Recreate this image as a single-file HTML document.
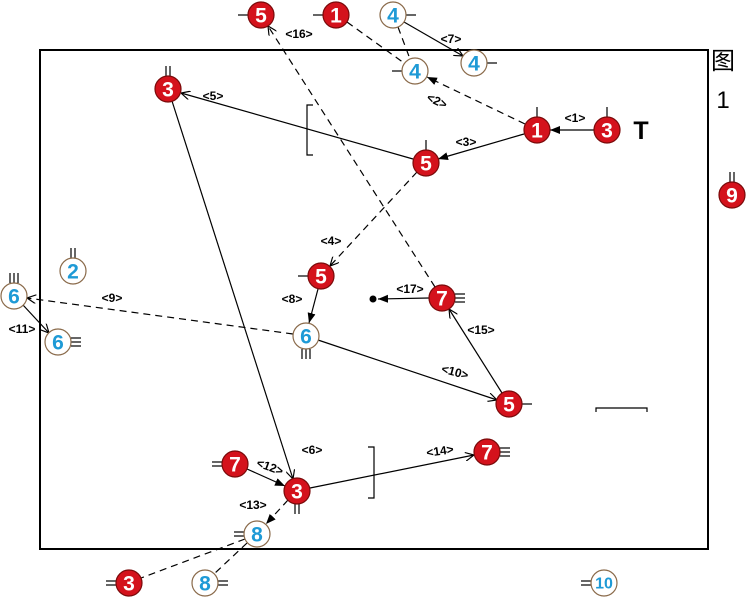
<!DOCTYPE html>
<html><head><meta charset="utf-8"><style>
html,body{margin:0;padding:0;background:#fff;}
svg{display:block;}
.r{fill:#d4121c;stroke:#7a0a0a;stroke-width:1.2}
.b{fill:#fff;stroke:#8a6a4a;stroke-width:1.2}
.tr{fill:#fff;font:bold 21px "Liberation Sans",sans-serif;text-anchor:middle;dominant-baseline:central}
.tb{fill:#1e9ad6;font:bold 21px "Liberation Sans",sans-serif;text-anchor:middle;dominant-baseline:central}
.l{font:600 12px "Liberation Sans",sans-serif;text-anchor:middle;fill:#000}
.e{stroke:#000;stroke-width:1.2;fill:none}
.d{stroke-dasharray:7,5}
.t{stroke:#000;stroke-width:1.2}
</style></head><body>
<svg width="747" height="600" viewBox="0 0 747 600" xmlns="http://www.w3.org/2000/svg">
<defs>
<marker id="f" viewBox="0 0 10 10" refX="10" refY="5" markerWidth="10" markerHeight="10" markerUnits="userSpaceOnUse" orient="auto"><path d="M0,1 L10,5 L0,9 z" fill="#000"/></marker>
<marker id="o" viewBox="0 0 10 10" refX="10" refY="5" markerWidth="9" markerHeight="9" markerUnits="userSpaceOnUse" orient="auto"><path d="M0,0 L10,5 L0,10" fill="none" stroke="#000" stroke-width="1.3"/></marker>
</defs>
<rect x="40" y="50" width="668" height="499" fill="none" stroke="#000" stroke-width="2"/>
<text x="723" y="69" font-family="Liberation Sans,Noto Sans CJK SC,sans-serif" font-size="24" text-anchor="middle">图</text>
<text x="723" y="108" font-family="Liberation Sans,sans-serif" font-size="24" text-anchor="middle">1</text>
<text x="641" y="139" font-family="Liberation Sans,sans-serif" font-size="25" font-weight="bold" text-anchor="middle">T</text>

<path class="e" d="M313,105 H307 V155 H313"/>
<path class="e" d="M368,447 H374 V498 H368"/>
<path class="e" d="M596,412 V408 H647 V412"/>

<line class="e" x1="594" y1="130" x2="550" y2="130" marker-end="url(#f)"/>
<line class="e d" x1="525" y1="124" x2="427" y2="77" marker-end="url(#f)"/>
<line class="e" x1="524" y1="134" x2="438" y2="159" marker-end="url(#f)"/>
<line class="e d" x1="417" y1="172" x2="330" y2="266" marker-end="url(#o)"/>
<line class="e" x1="413" y1="159" x2="181" y2="93" marker-end="url(#o)"/>
<line class="e" x1="172" y1="101" x2="293" y2="479" marker-end="url(#o)"/>
<line class="e" x1="404" y1="22" x2="463" y2="56" marker-end="url(#o)"/>
<line class="e" x1="318" y1="289" x2="309" y2="323" marker-end="url(#f)"/>
<line class="e d" x1="293" y1="334" x2="27" y2="298" marker-end="url(#o)"/>
<line class="e" x1="318" y1="340" x2="497" y2="400" marker-end="url(#o)"/>
<line class="e" x1="23" y1="305" x2="49" y2="333" marker-end="url(#o)"/>
<line class="e" x1="247" y1="469" x2="285" y2="486" marker-end="url(#f)"/>
<line class="e d" x1="288" y1="500" x2="266" y2="524" marker-end="url(#f)"/>
<line class="e" x1="310" y1="488" x2="474" y2="455" marker-end="url(#o)"/>
<line class="e" x1="502" y1="393" x2="449" y2="309" marker-end="url(#o)"/>
<line class="e d" x1="435" y1="287" x2="268" y2="26" marker-end="url(#o)"/>
<line class="e" x1="429" y1="298" x2="378" y2="299" marker-end="url(#f)"/>
<circle cx="373" cy="299" r="3.5" fill="#000"/>
<line class="e d" x1="347" y1="22" x2="404" y2="63"/>
<line class="e d" x1="398" y1="27" x2="410" y2="59"/>
<line class="e d" x1="245" y1="539" x2="141" y2="578"/>
<line class="e d" x1="247" y1="543" x2="214" y2="574"/>

<text class="l" x="575" y="122">&lt;1&gt;</text>
<text class="l" x="437" y="105" transform="rotate(25 437 101)">&lt;2&gt;</text>
<text class="l" x="466" y="146">&lt;3&gt;</text>
<text class="l" x="331" y="245">&lt;4&gt;</text>
<text class="l" x="213" y="100">&lt;5&gt;</text>
<text class="l" x="312" y="454">&lt;6&gt;</text>
<text class="l" x="451" y="43">&lt;7&gt;</text>
<text class="l" x="292" y="303">&lt;8&gt;</text>
<text class="l" x="112" y="302">&lt;9&gt;</text>
<text class="l" x="455" y="376" transform="rotate(15 455 372)">&lt;10&gt;</text>
<text class="l" x="22" y="333">&lt;11&gt;</text>
<text class="l" x="270" y="471" transform="rotate(20 270 467)">&lt;12&gt;</text>
<text class="l" x="253" y="509">&lt;13&gt;</text>
<text class="l" x="440" y="455" transform="rotate(-8 440 451)">&lt;14&gt;</text>
<text class="l" x="481" y="334">&lt;15&gt;</text>
<text class="l" x="299" y="38">&lt;16&gt;</text>
<text class="l" x="410" y="293">&lt;17&gt;</text>

<g class="t">
<line x1="248" y1="15" x2="238" y2="15"/>
<line x1="323" y1="15" x2="313" y2="15"/>
<line x1="406" y1="15" x2="416" y2="15"/>
<line x1="402" y1="71" x2="392" y2="71"/>
<line x1="487" y1="63" x2="497" y2="63"/>
<line x1="537" y1="117" x2="537" y2="107"/>
<line x1="607" y1="117" x2="607" y2="107"/>
<line x1="426" y1="150" x2="426" y2="140"/>
<line x1="166" y1="76" x2="166" y2="66"/><line x1="170" y1="76" x2="170" y2="66"/>
<line x1="730" y1="182" x2="730" y2="172"/><line x1="734" y1="182" x2="734" y2="172"/>
<line x1="71" y1="258" x2="71" y2="248"/><line x1="75" y1="258" x2="75" y2="248"/>
<line x1="10" y1="283" x2="10" y2="273"/><line x1="14" y1="283" x2="14" y2="273"/><line x1="18" y1="283" x2="18" y2="273"/>
<line x1="71" y1="338" x2="81" y2="338"/><line x1="71" y1="342" x2="81" y2="342"/><line x1="71" y1="346" x2="81" y2="346"/>
<line x1="308" y1="276" x2="298" y2="276"/>
<line x1="302" y1="349" x2="302" y2="359"/><line x1="306" y1="349" x2="306" y2="359"/><line x1="310" y1="349" x2="310" y2="359"/>
<line x1="455" y1="294" x2="465" y2="294"/><line x1="455" y1="298" x2="465" y2="298"/><line x1="455" y1="302" x2="465" y2="302"/>
<line x1="522" y1="404" x2="532" y2="404"/>
<line x1="500" y1="448" x2="510" y2="448"/><line x1="500" y1="452" x2="510" y2="452"/><line x1="500" y1="456" x2="510" y2="456"/>
<line x1="222" y1="462" x2="212" y2="462"/><line x1="222" y1="466" x2="212" y2="466"/>
<line x1="295" y1="504" x2="295" y2="514"/><line x1="299" y1="504" x2="299" y2="514"/>
<line x1="244" y1="532" x2="234" y2="532"/><line x1="244" y1="536" x2="234" y2="536"/>
<line x1="116" y1="581" x2="106" y2="581"/><line x1="116" y1="585" x2="106" y2="585"/>
<line x1="218" y1="581" x2="228" y2="581"/><line x1="218" y1="585" x2="228" y2="585"/>
<line x1="591" y1="581" x2="581" y2="581"/><line x1="591" y1="585" x2="581" y2="585"/>
</g>

<circle class="r" cx="261" cy="15" r="13"/><text class="tr" x="261" y="16">5</text>
<circle class="r" cx="336" cy="15" r="13"/><text class="tr" x="336" y="16">1</text>
<circle class="b" cx="393" cy="15" r="13"/><text class="tb" x="393" y="16">4</text>
<circle class="b" cx="415" cy="71" r="13"/><text class="tb" x="415" y="72">4</text>
<circle class="b" cx="474" cy="63" r="13"/><text class="tb" x="474" y="64">4</text>
<circle class="r" cx="537" cy="130" r="13"/><text class="tr" x="537" y="131">1</text>
<circle class="r" cx="607" cy="130" r="13"/><text class="tr" x="607" y="131">3</text>
<circle class="r" cx="426" cy="163" r="13"/><text class="tr" x="426" y="164">5</text>
<circle class="r" cx="168" cy="89" r="13"/><text class="tr" x="168" y="90">3</text>
<circle class="r" cx="732" cy="195" r="13"/><text class="tr" x="732" y="196">9</text>
<circle class="b" cx="73" cy="271" r="13"/><text class="tb" x="73" y="272">2</text>
<circle class="b" cx="14" cy="296" r="13"/><text class="tb" x="14" y="297">6</text>
<circle class="b" cx="58" cy="342" r="13"/><text class="tb" x="58" y="343">6</text>
<circle class="r" cx="321" cy="276" r="13"/><text class="tr" x="321" y="277">5</text>
<circle class="b" cx="306" cy="336" r="13"/><text class="tb" x="306" y="337">6</text>
<circle class="r" cx="442" cy="298" r="13"/><text class="tr" x="442" y="299">7</text>
<circle class="r" cx="509" cy="404" r="13"/><text class="tr" x="509" y="405">5</text>
<circle class="r" cx="487" cy="452" r="13"/><text class="tr" x="487" y="453">7</text>
<circle class="r" cx="235" cy="464" r="13"/><text class="tr" x="235" y="465">7</text>
<circle class="r" cx="297" cy="491" r="13"/><text class="tr" x="297" y="492">3</text>
<circle class="b" cx="257" cy="534" r="13"/><text class="tb" x="257" y="535">8</text>
<circle class="r" cx="129" cy="583" r="13"/><text class="tr" x="129" y="584">3</text>
<circle class="b" cx="205" cy="583" r="13"/><text class="tb" x="205" y="584">8</text>
<circle class="b" cx="604" cy="583" r="13"/><text class="tb" x="604" y="584" style="font-size:16px">10</text>
</svg>
</body></html>
